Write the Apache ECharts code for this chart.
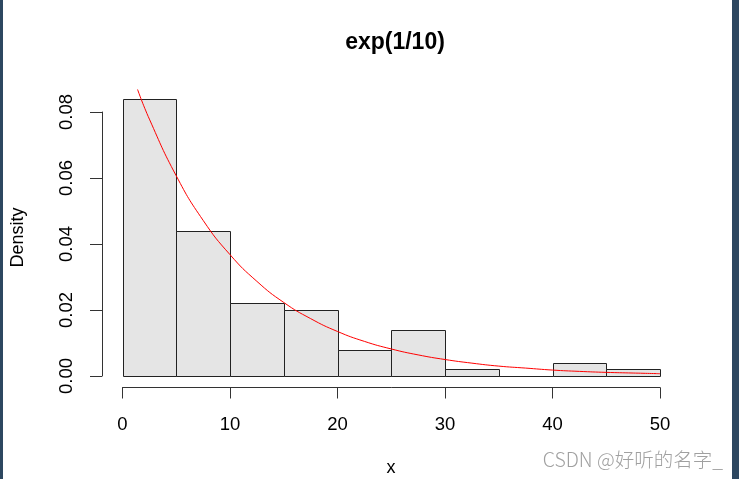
<!DOCTYPE html>
<html>
<head>
<meta charset="utf-8">
<script src="https://cdn.jsdelivr.net/npm/echarts@6/dist/echarts.min.js"></script>
<style>
html,body{margin:0;padding:0;background:#fff;}
#chart{width:739px;height:479px;}
</style>
</head>
<body>
<div id="chart"></div>
<script>
// Histogram bins (left edges, right edges) and densities
var binStart = [0, 5, 10, 15, 20, 25, 30, 35, 40, 45];
var binEnd   = [5, 10, 15, 20, 25, 30, 35, 40, 45, 50];
var density  = [0.084, 0.044, 0.022, 0.020, 0.008, 0.014, 0.002, 0.000, 0.004, 0.002];

// Red density curve
var curveX = [1.4, 2.5, 5, 7.5, 10, 12.5, 15, 17.5, 20, 22.5, 25, 27.5, 30, 32.5, 35, 37.5, 40, 42.5, 45, 47.5, 50];
var curveY = [0.0869, 0.0779, 0.0607, 0.0472, 0.0368, 0.0287, 0.0223, 0.0174, 0.0135, 0.0105, 0.0082, 0.0064, 0.0050, 0.0039, 0.0030, 0.0024, 0.0018, 0.0014, 0.0011, 0.0009, 0.0007];

// Tick labels
var xTicks = [0, 10, 20, 30, 40, 50];
var yTicks = ['0.00', '0.02', '0.04', '0.06', '0.08'];

var chart = echarts.init(document.getElementById('chart'), null, {renderer: 'canvas'});

var barData = binStart.map(function (s, i) { return [s, binEnd[i], density[i]]; });
var curveData = curveX.map(function (x, i) { return [x, curveY[i]]; });

var FONT = 'Liberation Sans, Arial, sans-serif';

var option = {
  backgroundColor: '#ffffff',
  animation: false,
  title: {
    text: 'exp(1/10)',
    left: 390, top: 26, textAlign: 'center',
    textStyle: {fontFamily: FONT, fontSize: 23, fontWeight: 'bold', color: '#000'}
  },
  grid: [
    {left: 122.5, right: 79, top: 79.2, bottom: 103},
    {left: 122.5, right: 79, top: 112, bottom: 103}
  ],
  xAxis: [
    {
      gridIndex: 0, type: 'value', min: 0, max: 50, interval: 10,
      position: 'bottom', offset: 11.5,
      axisLine: {show: true, onZero: false, lineStyle: {color: '#333', width: 1}},
      axisTick: {show: true, length: 11, lineStyle: {color: '#333'}},
      splitLine: {show: false},
      axisLabel: {
        margin: 28, fontFamily: FONT, fontSize: 18.5, color: '#000',
        formatter: function (v) { return xTicks.indexOf(v) >= 0 ? String(v) : ''; }
      }
    },
    {gridIndex: 1, type: 'value', min: 0, max: 50, show: false}
  ],
  yAxis: [
    {gridIndex: 0, type: 'value', min: 0, max: 0.09, show: false},
    {
      gridIndex: 1, type: 'value', min: 0, max: 0.08, interval: 0.02,
      position: 'left', offset: 20.5,
      axisLine: {show: true, onZero: false, lineStyle: {color: '#333', width: 1}},
      axisTick: {show: true, length: 12, lineStyle: {color: '#333'}},
      splitLine: {show: false},
      axisLabel: {
        rotate: 90, margin: 26, fontFamily: FONT, fontSize: 18.5, color: '#000',
        formatter: function (v) { return yTicks[Math.round(v / 0.02)]; }
      }
    }
  ],
  graphic: [
    {type: 'text', x: 18, y: 237.5, rotation: Math.PI / 2,
      style: {text: 'Density', fontFamily: FONT, fontSize: 18, fill: '#000', align: 'center', verticalAlign: 'middle'}},
    {type: 'text', x: 391, y: 468,
      style: {text: 'x', fontFamily: FONT, fontSize: 18, fill: '#000', align: 'center', verticalAlign: 'middle'}},
    {type: 'text', x: 723, y: 460,
      style: {text: 'CSDN @好听的名字_', fontFamily: 'Noto Sans CJK SC, sans-serif', fontSize: 19.5, fontWeight: 300, fill: '#a0a0a0', align: 'right', verticalAlign: 'middle'}},
    {type: 'rect', shape: {x: 0, y: 0, width: 3, height: 479}, style: {fill: '#2d4760'}},
    {type: 'rect', shape: {x: 732, y: 0, width: 7, height: 479}, style: {fill: '#2d4760'}}
  ],
  series: [
    {
      type: 'custom', xAxisIndex: 0, yAxisIndex: 0,
      data: barData,
      renderItem: function (params, api) {
        var p0 = api.coord([api.value(0), api.value(2)]);
        var p1 = api.coord([api.value(1), 0]);
        return {
          type: 'rect',
          shape: {x: Math.round(p0[0]) + 0.5, y: Math.round(p0[1]) + 0.5,
                  width: Math.round(p1[0]) - Math.round(p0[0]), height: Math.round(p1[1]) - Math.round(p0[1])},
          style: {fill: '#e5e5e5', stroke: '#222', lineWidth: 1}
        };
      },
      z: 2
    },
    {
      type: 'line', xAxisIndex: 0, yAxisIndex: 0,
      data: curveData, smooth: true, showSymbol: false,
      lineStyle: {color: '#ff0000', width: 1},
      z: 3
    }
  ]
};
chart.setOption(option);
</script>
</body>
</html>
